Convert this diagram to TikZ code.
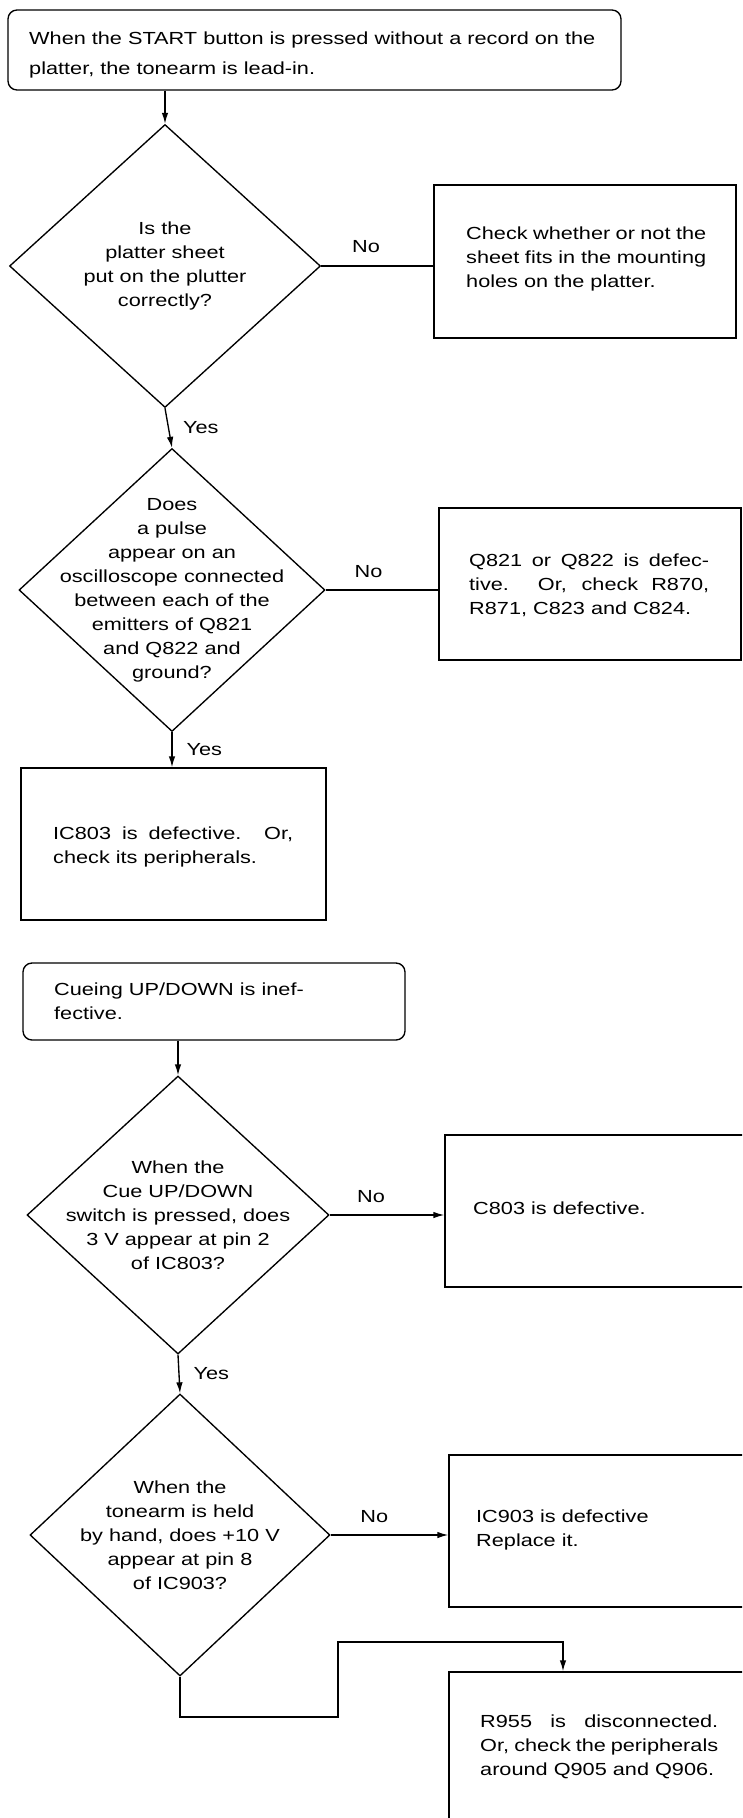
\documentclass[tikz,border=0pt]{standalone}
\usepackage{fontspec}
\setmainfont[FakeStretch=1.24]{Liberation Sans}
\usetikzlibrary{shapes.geometric,arrows.meta}
\tikzset{
  line/.style={line width=1.35pt},
  arr/.style={line, -{Latex[length=11pt,width=6.5pt]}},
  box/.style={draw, line width=1.35pt, rectangle, inner sep=0pt},
  rbox/.style={box, rounded corners=9pt},
  dia/.style={draw, line width=1.35pt, diamond, inner sep=0pt},
  txt/.style={inner sep=0pt, align=left, anchor=west, font={\fontsize{17.5}{24}\selectfont}},
  dtxt/.style={inner sep=0pt, align=center, font={\fontsize{17.5}{24}\selectfont}},
  lbl/.style={inner sep=0pt, font={\fontsize{17.5}{24}\selectfont}},
}
\begin{document}
\begin{tikzpicture}[x=1pt,y=-1pt]
\useasboundingbox (0,0) rectangle (742,1818);
\clip (0,0) rectangle (742,1818);

% ---- first chart ----
\node[rbox, minimum width=613pt, minimum height=80pt] (tb) at (314.5,50) {};
\node[txt] (tbt) at (29,55) {When the START button is pressed without a record on the\\[6pt]platter, the tonearm is lead-in.};

\node[dia, minimum width=311pt, minimum height=283pt] (d1) at (165,266) {};
\node[dtxt] (d1t) at (d1.center) {Is the\\platter sheet\\put on the plutter\\correctly?};

\node[box, minimum width=302pt, minimum height=153pt] (b1) at (585,261.5) {};
\node[txt] (b1t) at (466,259) {\makebox[240pt][s]{Check whether or not the}\\\makebox[240pt][s]{sheet fits in the mounting}\\holes on the platter.};

\node[dia, minimum width=306pt, minimum height=283pt] (d2) at (172,590) {};
\node[dtxt] (d2t) at (d2.center) {Does\\a pulse\\appear on an\\oscilloscope connected\\between each of the\\emitters of Q821\\and Q822 and\\ground?};

\node[box, minimum width=302pt, minimum height=152pt] (b2) at (590,584) {};
\node[txt] (b2t) at (469,585) {\makebox[240pt][s]{Q821 or Q822 is defec-}\\\makebox[240pt][s]{tive. Or, check R870,}\\R871, C823 and C824.};

\node[box, minimum width=305pt, minimum height=152pt] (b3) at (173.5,844) {};
\node[txt] (b3t) at (53,847) {\makebox[240pt][s]{IC803 is defective. Or,}\\check its peripherals.};

\coordinate (c0) at (d1.north |- tb.south);
\draw[arr] (c0) -- (d1.north);
\draw[line] (d1.east) -- node[lbl, pos=0.40, above=13pt] (n1) {No} (d1.east -| b1.west);
\draw[arr] (d1.south) -- node[lbl, right=14pt] (y1) {Yes} (d2.north);
\draw[line] (d2.east) -- node[lbl, pos=0.38, above=12pt] (n2) {No} (d2.east -| b2.west);
\coordinate (c1) at (d2.south |- b3.north);
\draw[arr] (d2.south) -- node[lbl, right=14pt] (y2) {Yes} (c1);

% ---- second chart ----
\node[rbox, minimum width=382pt, minimum height=77pt] (rb2) at (214,1001.5) {};
\node[txt] (rb2t) at (54,1001.5) {Cueing UP/DOWN is inef-\\fective.};

\node[dia, minimum width=302pt, minimum height=278pt] (d3) at (178,1215) {};
\node[dtxt] (d3t) at (d3.center) {When the\\Cue UP/DOWN\\switch is pressed, does\\3 V appear at pin 2\\of IC803?};

\node[box, minimum width=303pt, minimum height=152pt] (b4) at (596.5,1211) {};
\node[txt] (b4t) at (473,1208) {C803 is defective.};

\node[dia, minimum width=300pt, minimum height=282pt] (d4) at (180,1535) {};
\node[dtxt] (d4t) at (d4.center) {When the\\tonearm is held\\by hand, does +10 V\\appear at pin 8\\of IC903?};

\node[box, minimum width=299pt, minimum height=152pt] (b5) at (598.5,1531) {};
\node[txt] (b5t) at (476,1530) {IC903 is defective\\Replace it.};

\node[box, minimum width=299pt, minimum height=158pt] (b6) at (598.5,1751) {};
\node[txt] (b6t) at (480,1747) {\makebox[238pt][s]{R955 is disconnected.}\\\makebox[238pt][s]{Or, check the peripherals}\\around Q905 and Q906.};

\coordinate (c2) at (d3.north |- rb2.south);
\draw[arr] (c2) -- (d3.north);
\draw[arr] (d3.east) -- node[lbl, pos=0.36, above=12pt] (n3) {No} (d3.east -| b4.west);
\draw[arr] (d3.south) -- node[lbl, right=14pt] (y3) {Yes} (d4.north);
\draw[arr] (d4.east) -- node[lbl, pos=0.37, above=12pt] (n4) {No} (d4.east -| b5.west);
\coordinate (k1) at (338,1717);
\coordinate (k2) at (563,1642);
\draw[arr] (d4.south) |- (k1) |- (k2) -- (k2 |- b6.north);
\end{tikzpicture}
\end{document}
